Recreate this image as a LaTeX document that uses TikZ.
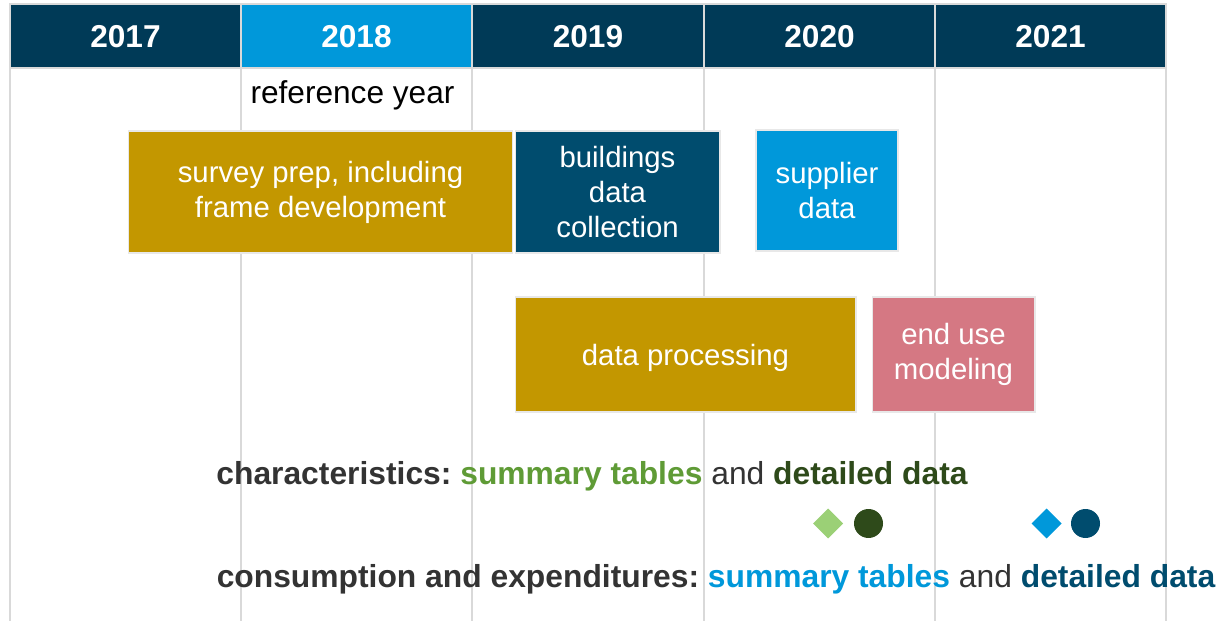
\documentclass[tikz,border=0pt]{standalone}
\usepackage{fontspec}
\setmainfont{Liberation Sans}
\frenchspacing
\usetikzlibrary{shapes.geometric}
\definecolor{navy}{HTML}{003A57}
\definecolor{skyblue}{HTML}{0098DA}
\definecolor{petrol}{HTML}{004C6E}
\definecolor{gold}{HTML}{C39700}
\definecolor{rose}{HTML}{D57883}
\definecolor{gridgray}{HTML}{D9D9D9}
\definecolor{leafgreen}{HTML}{9BD076}
\definecolor{forest}{HTML}{2E4A1A}
\definecolor{grassgreen}{HTML}{5F9B36}
\definecolor{inkgray}{HTML}{333333}
\tikzset{
	yearcell/.style={fill=navy, draw=gridgray, line width=0.6pt, minimum width=4.62cm, minimum height=1.28cm, inner sep=0pt, outer sep=0pt},
	yeartext/.style={anchor=base, text=white, font=\fontsize{18}{21}\selectfont\bfseries, inner sep=0pt},
	taskbox/.style={draw=gridgray!60, line width=0.6pt, text=white, font=\fontsize{16.7}{20}\selectfont, align=center, inner sep=0pt, outer sep=0pt, execute at begin node={\rule{0pt}{16pt}}},
	legendtext/.style={anchor=base, font=\fontsize{18.1}{21}\selectfont\bfseries, text=inkgray, inner sep=0pt},
	marker/.style={inner sep=0pt, outer sep=0pt, draw=none}
}
\begin{document}
\begin{tikzpicture}[x=0.02cm, y=-0.02cm]
	\useasboundingbox (0,0) rectangle (1220,621);
	% grid
	\foreach \gx in {10,241,472,704,935,1166}
		\draw[gridgray, line width=0.6pt] (\gx,4) -- (\gx,621);
	% year header
	\draw (125.5,36) node[yearcell](y2017){};
	\draw (356.5,36) node[yearcell, fill=skyblue](y2018){};
	\draw (588,36) node[yearcell](y2019){};
	\draw (819.5,36) node[yearcell](y2020){};
	\draw (1050.5,36) node[yearcell](y2021){};
	\node[yeartext] (t2017) at (125.5,48) {2017};
	\node[yeartext] (t2018) at (356.5,48) {2018};
	\node[yeartext] (t2019) at (588,48) {2019};
	\node[yeartext] (t2020) at (819.5,48) {2020};
	\node[yeartext] (t2021) at (1050.5,48) {2021};
	\node[anchor=base, font=\fontsize{18}{21}\selectfont, inner sep=0pt] (refyear) at (352.5,104) {reference year};
	% tasks
	\draw (320.5,192) node[taskbox, fill=gold, minimum width=7.7cm, minimum height=2.44cm](prep){survey prep, including\\frame development};
	\draw (617.5,192) node[taskbox, fill=petrol, minimum width=4.1cm, minimum height=2.44cm](collect){buildings\\data\\collection};
	\draw (827,190.5) node[taskbox, fill=skyblue, minimum width=2.84cm, minimum height=2.42cm](supplier){supplier\\data};
	\draw (685.5,354.5) node[taskbox, fill=gold, minimum width=6.82cm, minimum height=2.3cm](process){data processing};
	\draw (953.5,354.5) node[taskbox, fill=rose, minimum width=3.26cm, minimum height=2.3cm](enduse){end use\\modeling};
	% releases
	\node[legendtext] (chars) at (592,484) {characteristics: \textcolor{grassgreen}{summary tables} \textmd{and} \textcolor{forest}{detailed data}};
	\draw (828,523.5) node[marker, diamond, fill=leafgreen, minimum size=0.6cm](charsum){};
	\draw (868.5,523.5) node[marker, circle, fill=forest, minimum size=0.58cm](chardet){};
	\draw (1046.5,523.5) node[marker, diamond, fill=skyblue, minimum size=0.6cm](consum){};
	\draw (1085.5,523.5) node[marker, circle, fill=petrol, minimum size=0.58cm](condet){};
	\node[legendtext] (cons) at (716,587) {consumption and expenditures: \textcolor{skyblue}{summary tables} \textmd{and} \textcolor{petrol}{detailed data}};
\end{tikzpicture}
\end{document}
